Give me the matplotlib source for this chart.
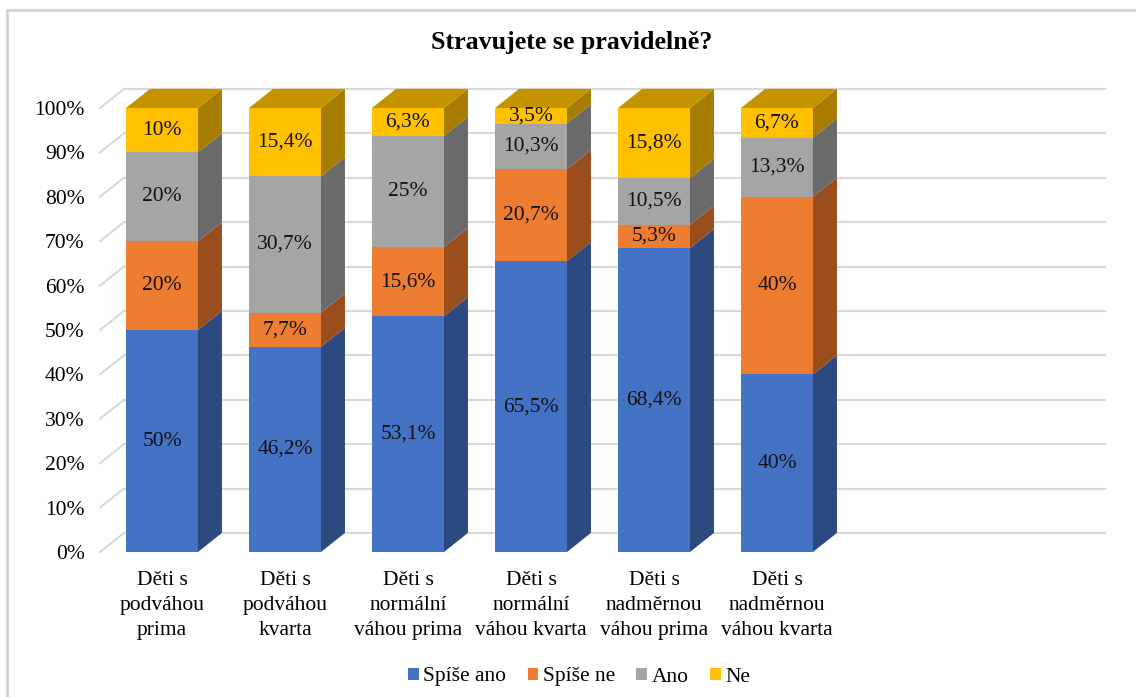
import matplotlib
matplotlib.use("Agg")
import matplotlib.pyplot as plt
from matplotlib.patches import Polygon, Rectangle, Patch
from matplotlib.lines import Line2D

plt.rcParams['font.family'] = ['Liberation Serif', 'DejaVu Serif']

# data
categories = ["Děti s\npodváhou\nprima", "Děti s\npodváhou\nkvarta",
              "Děti s\nnormální\nváhou prima", "Děti s\nnormální\nváhou kvarta",
              "Děti s\nnadměrnou\nváhou prima", "Děti s\nnadměrnou\nváhou kvarta"]
series_names = ["Spíše ano", "Spíše ne", "Ano", "Ne"]
spise_ano = [50, 46.2, 53.1, 65.5, 68.4, 40]
spise_ne = [20, 7.7, 15.6, 20.7, 5.3, 40]
ano = [20, 30.7, 25, 10.3, 10.5, 13.3]
ne = [10, 15.4, 6.3, 3.5, 15.8, 6.7]
y_ticks = list(range(0, 101, 10))

series = [spise_ano, spise_ne, ano, ne]
front_cols = ["#4472C4", "#ED7D31", "#A5A5A5", "#FFC000"]
side_cols = ["#2C4A80", "#9A4E1D", "#6A6A6A", "#A67D00"]
top_cols = ["#3A62AA", "#C8692A", "#8C8C8C", "#C49400"]

# 3d look: depth offset in data units
bw = 0.585
dx = 0.195
dy = 4.3

fig = plt.figure(figsize=(11.36, 6.97), dpi=100)
ax = fig.add_axes([100 / 1136, 1 - 552 / 697, 981 / 1136, 444 / 697])
x0, x1 = (100 - 162) / 123, (1081 - 162) / 123
ax.set_xlim(x0, x1)
ax.set_ylim(0, 100)
for s in ax.spines.values():
    s.set_visible(False)

# back wall gridlines + side wall lines
grid_col = "#D9D9D9"
for v in y_ticks:
    ax.add_line(Line2D([x0, x0 + dx], [v, v + dy], color=grid_col, lw=1.5, clip_on=False, zorder=1))
    ax.add_line(Line2D([x0 + dx, x1 + dx], [v + dy, v + dy], color=grid_col, lw=1.5, clip_on=False, zorder=1))

# bars
for i in range(len(categories)):
    bottom = 0
    left = i - bw / 2
    right = i + bw / 2
    for k, vals in enumerate(series):
        v = vals[i]
        top = bottom + v
        ax.add_patch(Rectangle((left, bottom), bw, v, facecolor=front_cols[k],
                               edgecolor='none', clip_on=False, zorder=3))
        ax.add_patch(Polygon([(right, bottom), (right + dx, bottom + dy),
                              (right + dx, top + dy), (right, top)],
                             facecolor=side_cols[k], edgecolor='none', clip_on=False, zorder=3))
        if k == len(series) - 1:
            ax.add_patch(Polygon([(left, top), (right, top), (right + dx, top + dy),
                                  (left + dx, top + dy)],
                                 facecolor=top_cols[k], edgecolor='none', clip_on=False, zorder=3))
        lbl = f"{v:g}".replace('.', ',') + '%'
        ax.text(i, bottom + v / 2, lbl, ha='center', va='center', fontsize=15.5,
                color='#111111', zorder=5)
        bottom = top

ax.set_yticks(y_ticks)
ax.set_yticklabels([f"{v}%" for v in y_ticks], fontsize=15.5)
ax.set_xticks(range(len(categories)))
ax.set_xticklabels(categories, fontsize=15.5, linespacing=1.4)
ax.tick_params(axis='y', length=0, pad=11)
ax.tick_params(axis='x', length=0, pad=14)

fig.text(572 / 1136, 1 - 42 / 697, "Stravujete se pravidelně?", ha='center', va='center',
         fontsize=18.7, fontweight='bold')

handles = [Patch(facecolor=c, edgecolor='none') for c in front_cols]
fig.legend(handles, series_names, loc='center', bbox_to_anchor=(579 / 1136, 1 - 677 / 697),
           ncol=4, frameon=False, fontsize=15.5, handlelength=0.5, handleheight=0.5,
           handletextpad=0.2, columnspacing=1.0)

# outer frame (cut off at right/bottom)
fig.add_artist(Rectangle((7 / 1136, -0.1), 1.2, 1 - 10 / 697 + 0.1, transform=fig.transFigure,
                         fill=False, edgecolor='#D0D0D0', lw=2))

fig.savefig("out.png", dpi=100)
